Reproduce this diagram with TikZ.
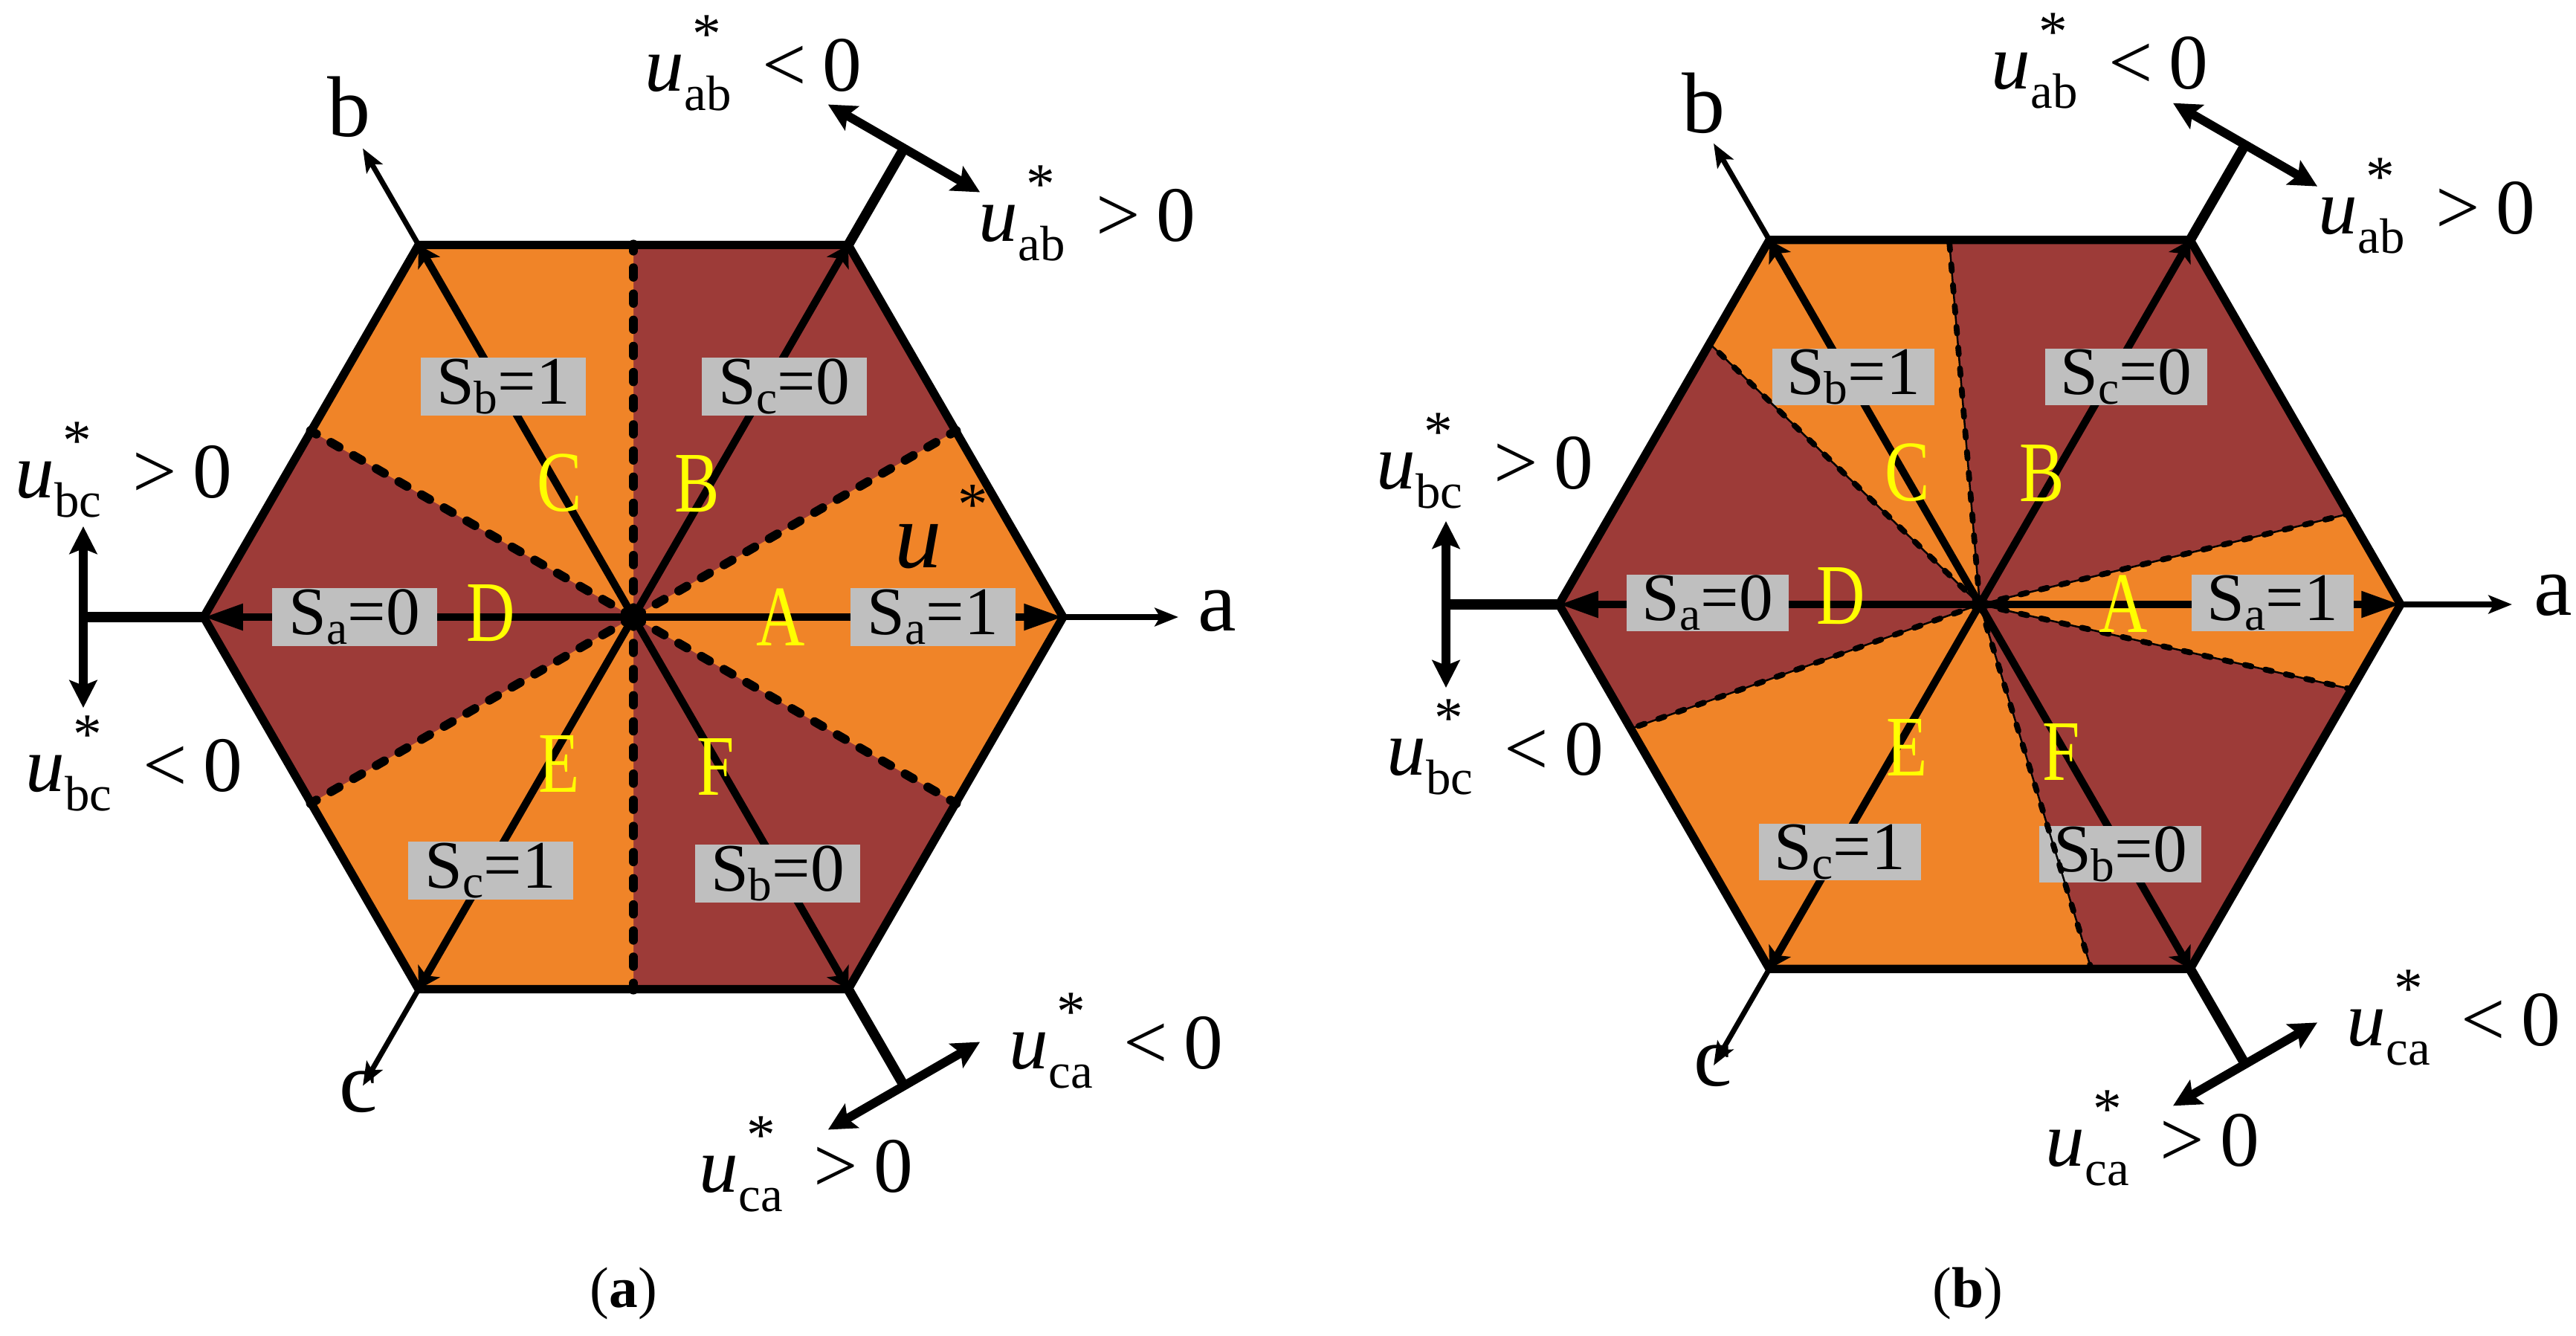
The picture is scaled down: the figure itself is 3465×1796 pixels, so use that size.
\documentclass[tikz,border=0pt]{standalone}
\usepackage{fontspec}
\setmainfont{Liberation Serif}
\newfontfamily\narrowserif[FakeStretch=0.78]{Liberation Serif}
\usetikzlibrary{arrows.meta}
\definecolor{orng}{RGB}{240,132,40}
\definecolor{dred}{RGB}{157,59,56}
\definecolor{boxgray}{RGB}{191,191,191}
\definecolor{ylw}{RGB}{255,255,0}
\newcommand{\uexpr}[2]{\fontsize{30}{30}\selectfont\textit{u}\rlap{\hspace{0.1em}\raisebox{0.48em}{\fontsize{22}{22}\selectfont *}}\raisebox{-0.25em}{\fontsize{19}{19}\selectfont #1}\hspace{0.4em}#2\hspace{0.2em}0}
\newcommand{\slab}[2]{S\raisebox{-0.15em}{\fontsize{18}{18}\selectfont #1}=#2}
\begin{document}
\begin{tikzpicture}[x=0.01cm,y=-0.01cm,
  hexb/.style={line width=3.2pt, line join=miter},
  spoke/.style={line width=2.9pt},
  htip/.style={-{Triangle[length=15pt,width=9.5pt]}},
  dtip/.style={-{Stealth[length=8pt,width=9.5pt,inset=2pt]}},
  thinax/.style={line width=2pt, -{Stealth[length=9pt,width=7pt,inset=2pt]}},
  thickext/.style={line width=3.8pt},
  dbl/.style={line width=3.4pt, {Stealth[length=10.5pt,width=10.5pt,inset=2pt]}-{Stealth[length=10.5pt,width=10.5pt,inset=2pt]}},
  dashA/.style={line width=3.4pt, line cap=round, dash pattern=on 3.6pt off 6.4pt},
  dashB/.style={line width=2.2pt, line cap=round, dash pattern=on 2.6pt off 5.4pt},
  thinline/.style={line width=0.7pt},
  gbox/.style={fill=boxgray, minimum width=2.22cm, minimum height=0.78cm, inner sep=0pt, font=\fontsize{26}{26}\selectfont},
  yl/.style={text=ylw, inner sep=0pt, font=\fontsize{33}{33}\selectfont\narrowserif},
  axl/.style={inner sep=0pt, anchor=base west, font=\fontsize{33}{33}\selectfont},
  ulab/.style={inner sep=0pt, anchor=base west},
  captext/.style={inner sep=0pt, anchor=base, font=\fontsize{22}{22}\selectfont}
]
\useasboundingbox (0,0) rectangle (3465,1796);

% ---------- coordinates, panel (a)
\begin{scope}[shift={(852,830)},yscale=-1]
  \def\R{578}
  \coordinate (aO) at (0,0);
  \foreach \i in {0,...,5}{
    \coordinate (aV\i) at ({60*\i}:\R);
    \coordinate (aM\i) at ({60*\i+30}:{0.8660254*\R});
  }
  \coordinate (aTa) at (0:{\R+155});
  \coordinate (aTb) at (120:{\R+150});
  \coordinate (aTc) at (240:{\R+150});
  \coordinate (aE1) at (60:{\R+150});
  \coordinate (aE3) at (180:{\R+162});
  \coordinate (aE5) at (300:{\R+150});
  \path (aE1) ++(150:118) coordinate (aD1s);
  \path (aE1) ++(-30:118) coordinate (aD1e);
  \path (aE3) ++(90:122) coordinate (aD3s);
  \path (aE3) ++(270:122) coordinate (aD3e);
  \path (aE5) ++(30:118) coordinate (aD5s);
  \path (aE5) ++(210:118) coordinate (aD5e);
\end{scope}

% ---------- coordinates, panel (b)
\begin{scope}[shift={(2663,813)},yscale=-1]
  \def\R{566}
  \coordinate (bO) at (0,0);
  \foreach \i in {0,...,5}{
    \coordinate (bV\i) at ({60*\i}:\R);
  }
  \foreach \n/\t/\m in {1/13.8/30, 2/94.8/90, 3/136/150, 4/199.6/210, 5/287/270, 6/347.15/330}{
    \coordinate (bP\n) at (\t:{0.8660254*\R/cos(\t-\m)});
  }
  \coordinate (bTa) at (0:{\R+150});
  \coordinate (bTb) at (120:{\R+150});
  \coordinate (bTc) at (240:{\R+150});
  \coordinate (bE1) at (60:{\R+148});
  \coordinate (bE3) at (180:{\R+152});
  \coordinate (bE5) at (300:{\R+148});
  \path (bE1) ++(150:112) coordinate (bD1s);
  \path (bE1) ++(-30:112) coordinate (bD1e);
  \path (bE3) ++(90:112) coordinate (bD3s);
  \path (bE3) ++(270:112) coordinate (bD3e);
  \path (bE5) ++(30:112) coordinate (bD5s);
  \path (bE5) ++(210:112) coordinate (bD5e);
\end{scope}

% ================= panel (a)
\fill[dred] (aV0)--(aV1)--(aV2)--(aV3)--(aV4)--(aV5)--cycle;
\fill[orng] (aO)--(aM5)--(aV0)--(aM0)--cycle;
\fill[orng] (aO)--(aM1)--(aV2)--(aM2)--cycle;
\fill[orng] (aO)--(aM3)--(aV4)--(aM4)--cycle;
\draw[spoke,htip] (aO)--(aV0);
\draw[spoke,dtip] (aO)--(aV1);
\draw[spoke,dtip] (aO)--(aV2);
\draw[spoke,htip] (aO)--(aV3);
\draw[spoke,dtip] (aO)--(aV4);
\draw[spoke,dtip] (aO)--(aV5);
\node[gbox] (aSb1) at (677,520) {\slab{b}{1}};
\node[gbox] (aSc0) at (1055,520) {\slab{c}{0}};
\node[gbox] (aSa0) at (477,830) {\slab{a}{0}};
\node[gbox] (aSa1) at (1255,830) {\slab{a}{1}};
\node[gbox] (aSc1) at (660,1171) {\slab{c}{1}};
\node[gbox] (aSb0) at (1046,1175) {\slab{b}{0}};
\foreach \i in {0,...,5} \draw[dashA] (aO)--(aM\i);
\node[yl] (aA) at (1050,830) {A};
\node[yl] (aB) at (938,651) {B};
\node[yl] (aC) at (753,650) {C};
\node[yl] (aD) at (660,825) {D};
\node[yl] (aEl) at (752,1027) {E};
\node[yl] (aF) at (963,1031) {F};
\node[ulab, font=\fontsize{36}{36}\selectfont\itshape] (aU) at (1203,763) {u};
\node[ulab, font=\fontsize{23}{23}\selectfont] (aUs) at (1288,705) {*};
\draw[hexb] (aV0)--(aV1)--(aV2)--(aV3)--(aV4)--(aV5)--cycle;
\foreach \i in {0,...,5} \fill (aM\i) circle (7);
\draw[thinax] (aV0)--(aTa);
\draw[thinax] (aV2)--(aTb);
\draw[thinax] (aV4)--(aTc);
\draw[thickext] (aV1)--(aE1);
\draw[thickext] (aV3)--(aE3);
\draw[thickext] (aV5)--(aE5);
\draw[dbl] (aD1s)--(aD1e);
\draw[dbl] (aD3s)--(aD3e);
\draw[dbl] (aD5s)--(aD5e);
\node[axl] (aLa) at (1611,848) {a};
\node[axl] (aLb) at (440,183) {b};
\node[axl] (aLc) at (456,1495) {c};
\node[ulab] (aUab1) at (867,122) {\uexpr{ab}{<}};
\node[ulab] (aUab2) at (1316,324) {\uexpr{ab}{>}};
\node[ulab] (aUbc1) at (20,669) {\uexpr{bc}{>}};
\node[ulab] (aUbc2) at (34,1064) {\uexpr{bc}{<}};
\node[ulab] (aUca1) at (1357,1437) {\uexpr{ca}{<}};
\node[ulab] (aUca2) at (940,1603) {\uexpr{ca}{>}};
\node[captext] (capA) at (839,1758) {(\textbf{a})};

% ================= panel (b)
\fill[dred] (bV0)--(bV1)--(bV2)--(bV3)--(bV4)--(bV5)--cycle;
\fill[orng] (bO)--(bP6)--(bV0)--(bP1)--cycle;
\fill[orng] (bO)--(bP2)--(bV2)--(bP3)--cycle;
\fill[orng] (bO)--(bP4)--(bV4)--(bP5)--cycle;
\draw[spoke,htip] (bO)--(bV0);
\draw[spoke,dtip] (bO)--(bV1);
\draw[spoke,dtip] (bO)--(bV2);
\draw[spoke,htip] (bO)--(bV3);
\draw[spoke,dtip] (bO)--(bV4);
\draw[spoke,dtip] (bO)--(bV5);
\node[gbox, minimum width=2.18cm, minimum height=0.76cm] (bSb1) at (2493,507) {\slab{b}{1}};
\node[gbox, minimum width=2.18cm, minimum height=0.76cm] (bSc0) at (2860,507) {\slab{c}{0}};
\node[gbox, minimum width=2.18cm, minimum height=0.76cm] (bSa0) at (2297,811) {\slab{a}{0}};
\node[gbox, minimum width=2.18cm, minimum height=0.76cm] (bSa1) at (3057,811) {\slab{a}{1}};
\node[gbox, minimum width=2.18cm, minimum height=0.76cm] (bSc1) at (2475,1146) {\slab{c}{1}};
\node[gbox, minimum width=2.18cm, minimum height=0.76cm] (bSb0) at (2852,1149) {\slab{b}{0}};
\foreach \n in {1,...,6}{
  \draw[thinline] (bO)--(bP\n);
  \draw[dashB] (bO)--(bP\n);
}
\node[yl] (bA) at (2856,812) {A};
\node[yl] (bB) at (2747,637) {B};
\node[yl] (bC) at (2566,636) {C};
\node[yl] (bD) at (2476,802) {D};
\node[yl] (bEl) at (2565,1005) {E};
\node[yl] (bF) at (2773,1011) {F};
\draw[hexb] (bV0)--(bV1)--(bV2)--(bV3)--(bV4)--(bV5)--cycle;
\draw[thinax] (bV0)--(bTa);
\draw[thinax] (bV2)--(bTb);
\draw[thinax] (bV4)--(bTc);
\draw[thickext] (bV1)--(bE1);
\draw[thickext] (bV3)--(bE3);
\draw[thickext] (bV5)--(bE5);
\draw[dbl] (bD1s)--(bD1e);
\draw[dbl] (bD3s)--(bD3e);
\draw[dbl] (bD5s)--(bD5e);
\node[axl] (bLa) at (3408,827) {a};
\node[axl] (bLb) at (2262,178) {b};
\node[axl] (bLc) at (2278,1460) {c};
\node[ulab] (bUab1) at (2678,119) {\uexpr{ab}{<}};
\node[ulab] (bUab2) at (3118,314) {\uexpr{ab}{>}};
\node[ulab] (bUbc1) at (1851,657) {\uexpr{bc}{>}};
\node[ulab] (bUbc2) at (1865,1042) {\uexpr{bc}{<}};
\node[ulab] (bUca1) at (3156,1406) {\uexpr{ca}{<}};
\node[ulab] (bUca2) at (2751,1568) {\uexpr{ca}{>}};
\node[captext] (capB) at (2647,1758) {(\textbf{b})};
\end{tikzpicture}
\end{document}
